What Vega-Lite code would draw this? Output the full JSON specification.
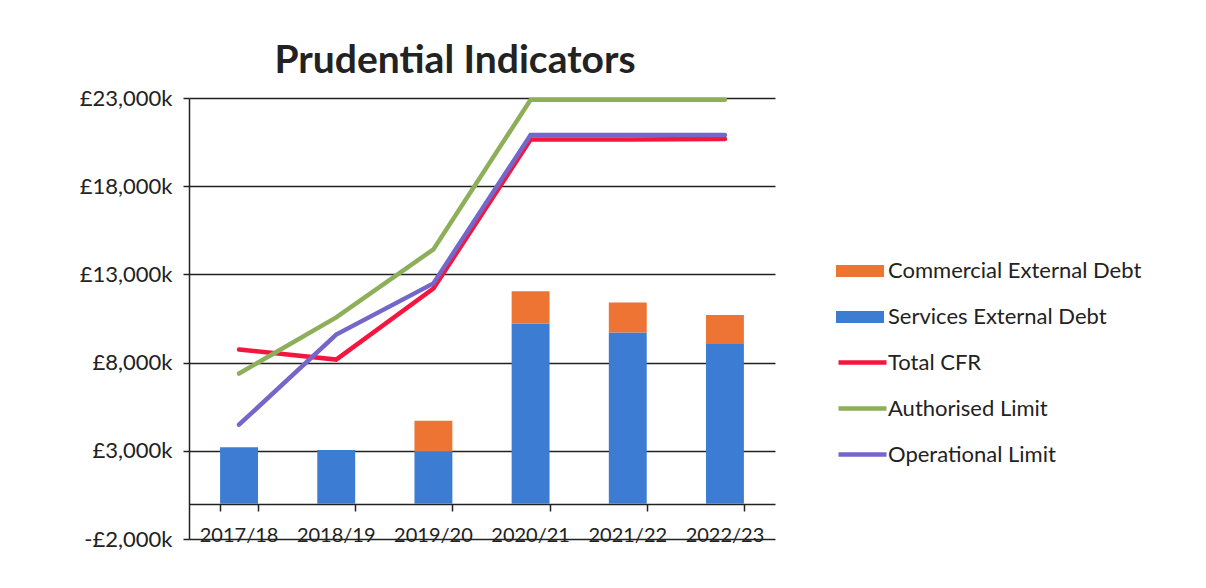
{
  "$schema": "https://vega.github.io/schema/vega-lite/v6.json",
  "width": 586,
  "height": 441,
  "autosize": "none",
  "padding": {"left": 189, "top": 98, "right": 431, "bottom": 49},
  "background": "white",
  "title": {
    "text": "Prudential Indicators",
    "font": "Lato",
    "fontSize": 39,
    "fontWeight": "bold",
    "color": "#222222",
    "anchor": "middle",
    "dx": -27,
    "offset": 6
  },
  "data": {
    "values": [
      {"year": "2017/18", "series": "Services External Debt", "kind": "bar", "value": 3200},
      {"year": "2018/19", "series": "Services External Debt", "kind": "bar", "value": 3050},
      {"year": "2019/20", "series": "Services External Debt", "kind": "bar", "value": 2950},
      {"year": "2019/20", "series": "Commercial External Debt", "kind": "bar", "value": 1750},
      {"year": "2020/21", "series": "Services External Debt", "kind": "bar", "value": 10200},
      {"year": "2020/21", "series": "Commercial External Debt", "kind": "bar", "value": 1850},
      {"year": "2021/22", "series": "Services External Debt", "kind": "bar", "value": 9700},
      {"year": "2021/22", "series": "Commercial External Debt", "kind": "bar", "value": 1700},
      {"year": "2022/23", "series": "Services External Debt", "kind": "bar", "value": 9050},
      {"year": "2022/23", "series": "Commercial External Debt", "kind": "bar", "value": 1650},
      {"year": "2017/18", "series": "Total CFR", "kind": "line", "value": 8740},
      {"year": "2018/19", "series": "Total CFR", "kind": "line", "value": 8170},
      {"year": "2019/20", "series": "Total CFR", "kind": "line", "value": 12200},
      {"year": "2020/21", "series": "Total CFR", "kind": "line", "value": 20650},
      {"year": "2021/22", "series": "Total CFR", "kind": "line", "value": 20650},
      {"year": "2022/23", "series": "Total CFR", "kind": "line", "value": 20670},
      {"year": "2017/18", "series": "Authorised Limit", "kind": "line", "value": 7380},
      {"year": "2018/19", "series": "Authorised Limit", "kind": "line", "value": 10560},
      {"year": "2019/20", "series": "Authorised Limit", "kind": "line", "value": 14420},
      {"year": "2020/21", "series": "Authorised Limit", "kind": "line", "value": 22900},
      {"year": "2021/22", "series": "Authorised Limit", "kind": "line", "value": 22900},
      {"year": "2022/23", "series": "Authorised Limit", "kind": "line", "value": 22900},
      {"year": "2017/18", "series": "Operational Limit", "kind": "line", "value": 4480},
      {"year": "2018/19", "series": "Operational Limit", "kind": "line", "value": 9590},
      {"year": "2019/20", "series": "Operational Limit", "kind": "line", "value": 12490},
      {"year": "2020/21", "series": "Operational Limit", "kind": "line", "value": 20900},
      {"year": "2021/22", "series": "Operational Limit", "kind": "line", "value": 20900},
      {"year": "2022/23", "series": "Operational Limit", "kind": "line", "value": 20900}
    ]
  },
  "layer": [
    {
      "transform": [{"filter": "datum.kind == 'bar'"}],
      "mark": {"type": "bar"},
      "encoding": {
        "x": {
          "field": "year",
          "type": "nominal",
          "sort": null,
          "scale": {"paddingInner": 0.61, "paddingOuter": 0.32},
          "axis": {
            "orient": "bottom",
            "title": null,
            "domain": false,
            "ticks": false,
            "tickSize": 0,
            "grid": false,
            "labelAngle": 0,
            "labelBaseline": "middle",
            "labelPadding": -4,
            "labelFont": "Lato",
            "labelFontSize": 20,
            "labelColor": "#222222"
          }
        },
        "y": {
          "field": "value",
          "type": "quantitative",
          "stack": "zero",
          "scale": {"domain": [-2000, 23000], "nice": false, "zero": false},
          "axis": {
            "title": null,
            "values": [-2000, 3000, 8000, 13000, 18000, 23000],
            "labelExpr": "(datum.value < 0 ? '-' : '') + '£' + format(abs(datum.value), ',') + 'k'",
            "grid": true,
            "gridColor": "#222222",
            "gridWidth": 1.5,
            "domainColor": "#222222",
            "domainWidth": 1.5,
            "tickColor": "#222222",
            "tickWidth": 1.5,
            "tickSize": 6,
            "labelPadding": 11,
            "labelFont": "Lato",
            "labelFontSize": 22,
            "labelColor": "#222222"
          }
        },
        "fill": {
          "field": "series",
          "type": "nominal",
          "scale": {
            "domain": ["Commercial External Debt", "Services External Debt"],
            "range": ["#EE7433", "#3C7CD2"]
          },
          "legend": {
            "title": null,
            "orient": "none",
            "legendX": 647,
            "legendY": 149,
            "symbolType": "M-1,-0.25H1V0.25H-1Z",
            "symbolSize": 2304,
            "symbolStrokeWidth": 0,
            "labelFont": "Lato",
            "labelFontSize": 22,
            "labelColor": "#222222",
            "labelOffset": 4,
            "labelLimit": 0,
            "rowPadding": 11,
            "padding": 0
          }
        },
        "order": {"field": "series", "sort": "descending"}
      }
    },
    {
      "transform": [{"filter": "datum.kind == 'line'"}],
      "mark": {"type": "line", "strokeWidth": 4.5, "strokeCap": "round", "strokeJoin": "miter"},
      "encoding": {
        "x": {
          "field": "year",
          "type": "nominal",
          "sort": null,
          "axis": {
            "orient": "bottom",
            "offset": -35,
            "title": null,
            "labels": false,
            "grid": false,
            "domain": true,
            "domainColor": "#222222",
            "domainWidth": 1.5,
            "ticks": true,
            "tickBand": "extent",
            "tickSize": 7,
            "tickColor": "#222222",
            "tickWidth": 1.5
          }
        },
        "y": {"field": "value", "type": "quantitative"},
        "stroke": {
          "field": "series",
          "type": "nominal",
          "scale": {
            "domain": ["Total CFR", "Authorised Limit", "Operational Limit"],
            "range": ["#F4163E", "#8EAF5A", "#7566C9"]
          },
          "legend": {
            "title": null,
            "orient": "none",
            "legendX": 647,
            "legendY": 238,
            "symbolType": "stroke",
            "symbolSize": 2304,
            "symbolStrokeWidth": 4.5,
            "labelFont": "Lato",
            "labelFontSize": 22,
            "labelColor": "#222222",
            "labelOffset": -1,
            "labelLimit": 0,
            "rowPadding": 8,
            "padding": 0
          }
        }
      }
    }
  ],
  "resolve": {"axis": {"x": "independent"}},
  "config": {"view": {"stroke": null}}
}
